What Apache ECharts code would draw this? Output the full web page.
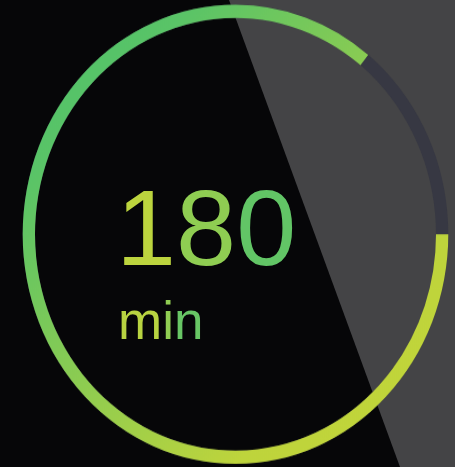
<!DOCTYPE html>
<html><head><meta charset="utf-8">
<script src="https://cdn.jsdelivr.net/npm/echarts@6/dist/echarts.min.js"></script>
<style>
html,body{margin:0;padding:0;background:#060608;overflow:hidden;width:455px;height:467px;}
#bg,#ring{position:absolute;left:0;top:0;width:455px;height:467px;}
#ring{transform-origin:235.5px 234.3px;transform:scaleY(1.079);}
</style></head><body>
<div id="bg"></div><div id="ring"></div>
<script>
// data
const gaugeValues = [180];
const gaugeMin = [0];
const gaugeMax = [210];
const unitLabels = ['min'];

const G = echarts.graphic;
const ringGrad = new G.LinearGradient(0, 0, 1, 1, [
  {offset: 0, color: '#48c06c'},
  {offset: 0.2, color: '#5ac467'},
  {offset: 0.75, color: '#bed43c'},
  {offset: 1, color: '#c4d638'}
]);

// per-character colours approximating the yellow→green text gradient
function richText(str, fontPx, colors) {
  const rich = {};
  let txt = '';
  const chars = str.split('');
  chars.forEach((ch, i) => {
    const key = 'c' + i;
    const t = chars.length > 1 ? i / (chars.length - 1) : 0;
    rich[key] = {fill: colors(t), font: fontPx + 'px "Liberation Sans", Arial, sans-serif'};
    txt += '{' + key + '|' + ch + '}';
  });
  return {txt, rich};
}
function lerpColor(a, b, t) {
  const pa = [1,3,5].map(i => parseInt(a.substr(i,2),16));
  const pb = [1,3,5].map(i => parseInt(b.substr(i,2),16));
  return 'rgb(' + pa.map((v,i) => Math.round(v + (pb[i]-v)*t)).join(',') + ')';
}
const valTxt = richText(String(gaugeValues[0]), 108, t => lerpColor('#bcd43e', '#62c566', t));
const unitTxt = richText(unitLabels[0], 53, t => lerpColor('#b8d341', '#68c665', t));

const bg = echarts.init(document.getElementById('bg'), null, {renderer: 'canvas'});
bg.setOption({
  backgroundColor: '#060608',
  graphic: [
    {type: 'polygon', silent: true, z: 0,
     shape: {points: [[229, 0], [455, 0], [455, 467], [400, 467]]},
     style: {fill: '#444446'}},
    {type: 'text', x: 116, y: 235, z: 10,
     style: {text: valTxt.txt, rich: valTxt.rich,
             font: '108px "Liberation Sans", Arial, sans-serif',
             align: 'left', verticalAlign: 'middle',
             textAlign: 'left', textVerticalAlign: 'middle'}},
    {type: 'text', x: 118, y: 324, z: 10,
     style: {text: unitTxt.txt, rich: unitTxt.rich,
             font: '53px "Liberation Sans", Arial, sans-serif',
             align: 'left', verticalAlign: 'middle',
             textAlign: 'left', textVerticalAlign: 'middle'}}
  ]
});

const ring = echarts.init(document.getElementById('ring'), null, {renderer: 'canvas'});
ring.setOption({
  backgroundColor: 'transparent',
  series: [{
    type: 'gauge',
    center: [235.5, 234.3],
    radius: 212.8,
    startAngle: 0,
    endAngle: -360,
    clockwise: true,
    min: gaugeMin[0],
    max: gaugeMax[0],
    animation: false,
    axisLine: {lineStyle: {width: 12.3, color: [[1, '#373843']]}},
    progress: {show: true, width: 12.3, roundCap: false, itemStyle: {color: ringGrad}},
    pointer: {show: false},
    anchor: {show: false},
    axisTick: {show: false},
    splitLine: {show: false},
    axisLabel: {show: false},
    title: {show: false},
    detail: {show: false},
    data: gaugeValues.map(v => ({value: v}))
  }]
});
</script>
</body></html>
